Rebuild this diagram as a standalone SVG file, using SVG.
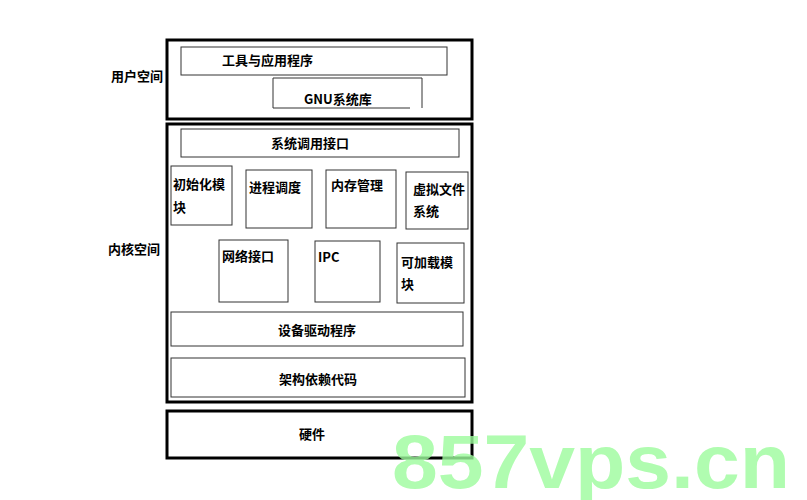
<svg xmlns="http://www.w3.org/2000/svg" width="807" height="500" viewBox="0 0 807 500">
<style>
.o{fill:none;stroke:#000;stroke-width:3}
.b{fill:#fff;stroke:#333;stroke-width:1}
text{font-family:"Noto Sans CJK SC","Noto Sans",sans-serif;font-size:13px;font-weight:bold;fill:#000}
.c{text-anchor:middle}
</style>
<rect width="807" height="500" fill="#fff"/>
<g id="user"><rect class="o" x="167" y="40" width="305" height="79"/><text x="111" y="81">用户空间</text></g>
<g id="tools"><rect class="b" x="181" y="47" width="266" height="28"/><text x="222" y="65">工具与应用程序</text></g>
<g id="gnu"><path d="M273 108V78H422V108M273 108H410" fill="none" stroke="#333"/><text x="304" y="104">GNU系统库</text></g>
<g id="kernel"><rect class="o" x="167" y="124" width="305" height="278"/><text x="108" y="254">内核空间</text></g>
<g id="syscall"><rect class="b" x="181" y="129" width="278" height="28"/><text class="c" x="310" y="148">系统调用接口</text></g>
<g id="init"><rect class="b" x="171" y="166" width="61" height="59"/><text x="173" y="189">初始化模</text><text x="173" y="212">块</text></g>
<g id="proc"><rect class="b" x="246" y="170" width="66" height="58"/><text x="249" y="192">进程调度</text></g>
<g id="mem"><rect class="b" x="326" y="170" width="70" height="58"/><text x="331" y="190">内存管理</text></g>
<g id="vfs"><rect class="b" x="406" y="172" width="62" height="57"/><text x="413" y="194">虚拟文件</text><text x="413" y="216">系统</text></g>
<g id="net"><rect class="b" x="219" y="240" width="69" height="62"/><text x="222" y="261">网络接口</text></g>
<g id="ipc"><rect class="b" x="315" y="241" width="65" height="61"/><text x="318" y="262">IPC</text></g>
<g id="mod"><rect class="b" x="397" y="243" width="67" height="60"/><text x="401" y="267">可加载模</text><text x="401" y="289">块</text></g>
<g id="drv"><rect class="b" x="171" y="312" width="292" height="34"/><text class="c" x="317" y="335">设备驱动程序</text></g>
<g id="arch"><rect class="b" x="171" y="358" width="294" height="39"/><text class="c" x="318" y="384">架构依赖代码</text></g>
<g id="hw"><rect class="o" x="167" y="411" width="305" height="47"/><text class="c" x="312" y="439">硬件</text></g>
<g id="connectors"/>
<text x="392" y="488" textLength="398" lengthAdjust="spacingAndGlyphs" style="font-family:'Liberation Sans',sans-serif;font-size:76px;font-weight:bold;fill:#9dfc9d;opacity:0.8">857vps.cn</text>
</svg>
